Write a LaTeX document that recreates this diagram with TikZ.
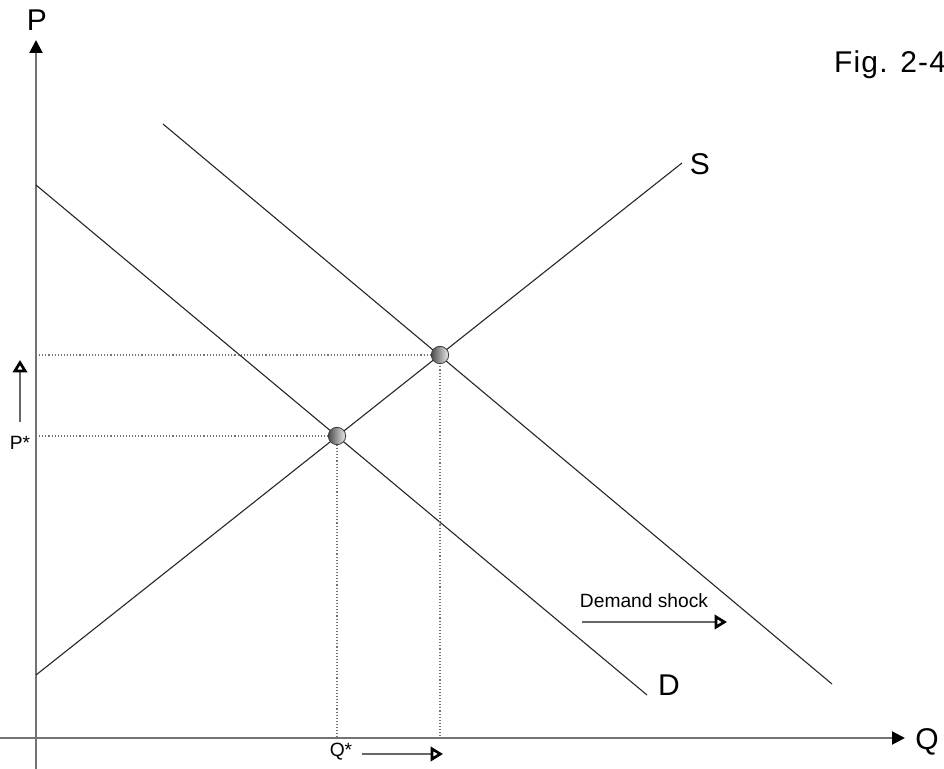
\documentclass[tikz,border=0pt]{standalone}
\usepackage{fontspec}
\setmainfont{Liberation Sans}
\usetikzlibrary{arrows.meta,positioning}

\begin{document}
\begin{tikzpicture}[x=0.5pt,y=-0.5pt,
  axis/.style={draw=black!55,line width=1pt,-{Triangle[length=6.5pt,width=6.5pt,color=black]}},
  curve/.style={draw=black!85,line width=0.55pt},
  guide/.style={draw=black!55,densely dotted,line width=0.55pt},
  shiftarrow/.style={draw=black!60,line width=0.8pt,-{Triangle[open,length=6.2pt,width=7.2pt,line width=1.35pt,color=black]}},
  eq/.style={circle,minimum size=8.7pt,inner sep=0pt,draw=black!75,left color=black!70,right color=black!8},
  biglabel/.style={font=\fontsize{15}{18}\selectfont},
  smalllabel/.style={font=\fontsize{9.6}{11}\selectfont}]
\useasboundingbox (0,0) rectangle (944,769);

% axes
\coordinate (O) at (36,738);
\coordinate (ybot) at (36,769);
\coordinate (ytop) at (36,40);
\coordinate (xleft) at (0,738);
\coordinate (xright) at (905,738);
\draw[axis] (ybot) -- (ytop);
\draw[axis] (xleft) -- (xright);
\node[biglabel] (Plab) at (37,20) {P};
\node[biglabel] (Qlab) at (927,742) {Q};

% supply and demand
\coordinate (s0) at (36,675);
\coordinate (s1) at (682,163);
\coordinate (d0) at (36,185);
\coordinate (d1) at (647,695);
\coordinate (dd0) at (163,124);
\coordinate (dd1) at (832,684);
\draw[curve] (s0) -- (s1);
\draw[curve] (d0) -- (d1);
\draw[curve] (dd0) -- (dd1);
\node[biglabel] (Slab) at (700,164) {S};
\node[biglabel] (Dlab) at (669,685) {D};

% equilibria
\coordinate (E1) at (337,436);
\coordinate (E2) at (440,355);
\draw[guide] (O |- E1) -- (E1) -- (E1 |- O);
\draw[guide] (O |- E2) -- (E2) -- (E2 |- O);
\node[eq] (ball1) at (E1) {};
\node[eq] (ball2) at (E2) {};

% shifts
\node[smalllabel,anchor=base] (pstar) at (20,450) {P*};
\coordinate (pa0) at (20,422);
\coordinate (pa1) at (20,360);
\draw[shiftarrow] (pa0) -- (pa1);
\node[smalllabel,anchor=base] (qstar) at (341,757) {Q*};
\coordinate (qa0) at (362,754);
\coordinate (qa1) at (443,754);
\draw[shiftarrow] (qa0) -- (qa1);
\node[smalllabel,anchor=base] (shocklab) at (644,608) {Demand shock};
\coordinate (sa0) at (582,622);
\coordinate (sa1) at (727,622);
\draw[shiftarrow] (sa0) -- (sa1);

\node[biglabel,anchor=base west] (fig) at (827,73) {\addfontfeature{LetterSpace=4}Fig. 2-4};
\end{tikzpicture}
\end{document}
